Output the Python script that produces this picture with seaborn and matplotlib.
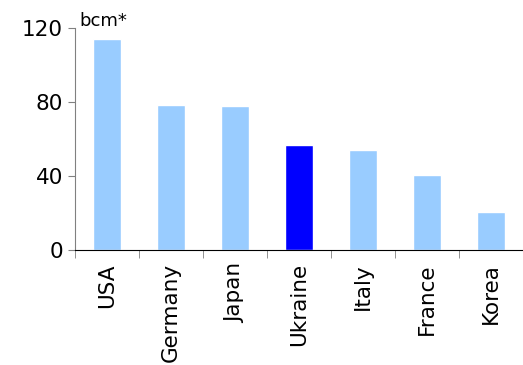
import matplotlib
matplotlib.use("Agg")
import matplotlib.pyplot as plt
import seaborn as sns
import pandas as pd

countries = ["USA", "Germany", "Japan", "Ukraine", "Italy", "France", "Korea"]
volumes = [114, 78.5, 78, 57, 54, 40.5, 20.5]
bar_colors = ["#99ccff", "#99ccff", "#99ccff", "#0000ff", "#99ccff", "#99ccff", "#99ccff"]

sns.set_style("white")
plt.rcParams["font.family"] = ["DejaVu Sans"]
plt.rcParams["text.color"] = "black"
plt.rcParams["xtick.color"] = "black"
plt.rcParams["ytick.color"] = "black"

df = pd.DataFrame({"country": countries, "bcm": volumes})

fig = plt.figure(figsize=(5.23, 3.65), dpi=100)
ax = fig.add_axes([0.143, 0.315, 0.857, 0.608])
sns.barplot(data=df, x="country", y="bcm", hue="country", palette=bar_colors,
            width=0.44, legend=False, ax=ax, saturation=1)

ax.set_xlim(-0.5, 6.5)
ax.set_ylim(0, 120)
ax.set_yticks([0, 40, 80, 120])
ax.set_xlabel("")
ax.set_ylabel("")
ax.tick_params(axis="y", labelsize=15.5, left=True, length=5, color="#808080", direction="out")
ax.tick_params(axis="x", which="major", labelsize=15.5, bottom=False, labelrotation=90, pad=6)
ax.set_xticks([i - 0.5 for i in range(7)], minor=True)
ax.tick_params(axis="x", which="minor", bottom=True, length=6, color="#808080")

for s in ["top", "right"]:
    ax.spines[s].set_visible(False)
ax.spines["left"].set_color("#808080")
ax.spines["bottom"].set_color("black")

ax.text(0.01, 0.99, "bcm*", transform=ax.transAxes, fontsize=13, va="bottom", ha="left")

fig.savefig("out.png", dpi=100)
